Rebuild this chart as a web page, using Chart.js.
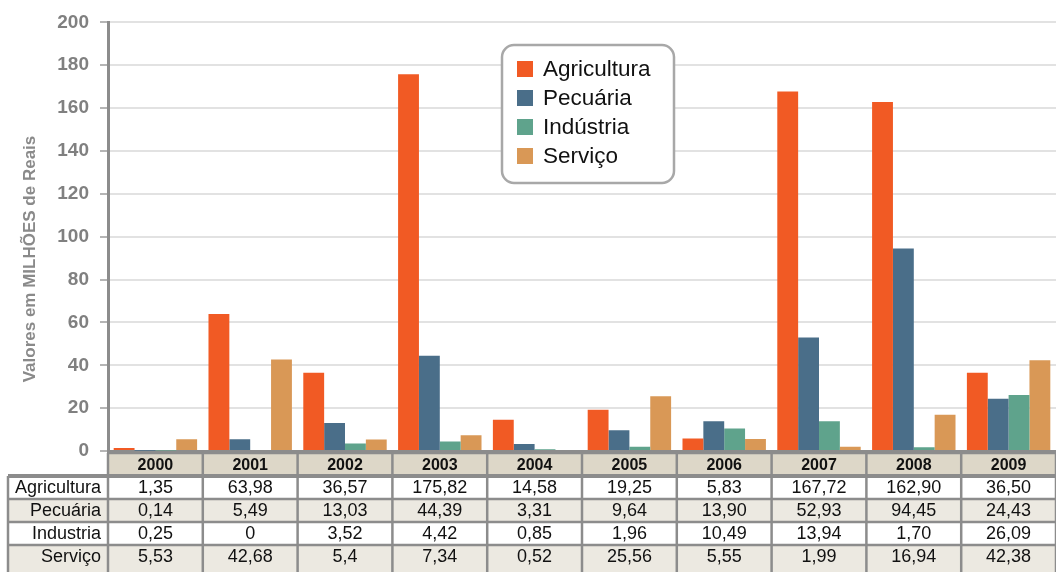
<!DOCTYPE html>
<html>
<head>
<meta charset="utf-8">
<script src="https://cdn.jsdelivr.net/npm/chart.js@4"></script>
<style>
  html, body { margin: 0; padding: 0; background: #fff; }
  #wrap { width: 1056px; height: 572px; position: relative; }
</style>
</head>
<body>
<div id="wrap"><canvas id="grafico"></canvas></div>
<script>
const anos = ["2000", "2001", "2002", "2003", "2004", "2005", "2006", "2007", "2008", "2009"];
const agricultura = ["1,35", "63,98", "36,57", "175,82", "14,58", "19,25", "5,83", "167,72", "162,90", "36,50"];
const pecuaria = ["0,14", "5,49", "13,03", "44,39", "3,31", "9,64", "13,90", "52,93", "94,45", "24,43"];
const industria = ["0,25", "0", "3,52", "4,42", "0,85", "1,96", "10,49", "13,94", "1,70", "26,09"];
const servico = ["5,53", "42,68", "5,4", "7,34", "0,52", "25,56", "5,55", "1,99", "16,94", "42,38"];
const nomesSeries = ["Agricultura", "Pecuária", "Indústria", "Serviço"];
const nomesLinhas = ["Agricultura", "Pecuária", "Industria", "Serviço"];
const tituloY = "Valores em MILHÕES de Reais";
const cores = ["#F15A24", "#4A6E89", "#5FA38C", "#D99856"];

const paraNumero = (s) => parseFloat(s.replace(",", "."));
const linhas = [agricultura, pecuaria, industria, servico];

const FONTE = "'Liberation Sans', Arial, sans-serif";
const CINZA = "#8c8c8c";

// título do eixo y (posição livre)
const tituloEixo = {
  id: "tituloEixo",
  afterDraw(chart) {
    const ctx = chart.ctx;
    ctx.save();
    ctx.translate(30, 259);
    ctx.rotate(-Math.PI / 2);
    ctx.font = "bold 17px " + FONTE;
    ctx.fillStyle = "#8a8a8a";
    ctx.textAlign = "center";
    ctx.textBaseline = "middle";
    ctx.fillText(tituloY, 0, 0);
    ctx.restore();
  },
};

// legenda em caixa arredondada
const legendaCaixa = {
  id: "legendaCaixa",
  afterDraw(chart) {
    const ctx = chart.ctx;
    const x = 502, y = 45, w = 172, h = 138, r = 12;
    ctx.save();
    ctx.beginPath();
    ctx.roundRect(x, y, w, h, r);
    ctx.fillStyle = "#fff";
    ctx.fill();
    ctx.lineWidth = 2.5;
    ctx.strokeStyle = "#a8a8a8";
    ctx.stroke();
    ctx.font = "22.5px " + FONTE;
    ctx.textBaseline = "middle";
    chart.data.datasets.forEach((ds, i) => {
      const cy = 69 + i * 29;
      ctx.fillStyle = ds.backgroundColor;
      ctx.fillRect(517, cy - 8, 16, 16);
      ctx.fillStyle = "#111";
      ctx.fillText(ds.label, 543, cy + 1);
    });
    ctx.restore();
  },
};

// tabela de dados abaixo do eixo x
const tabelaDados = {
  id: "tabelaDados",
  afterDraw(chart) {
    const ctx = chart.ctx;
    const xs = chart.scales.x;
    const larg = (xs.right - xs.left) / anos.length;
    const topo = chart.chartArea.bottom + 2;
    const alturas = [23, 23, 23, 23, 30];
    const fundos = ["#DDD7C8", "#ffffff", "#ECE9E1", "#ffffff", "#ECE9E1"];
    ctx.save();
    let y = topo;
    for (let r = 0; r < 5; r++) {
      const h = alturas[r];
      const x0 = r === 0 ? xs.left : 8;
      ctx.fillStyle = fundos[r];
      ctx.fillRect(x0, y, xs.right - x0, h);
      ctx.textBaseline = "middle";
      ctx.textAlign = "center";
      for (let c = 0; c < anos.length; c++) {
        const cx = xs.getPixelForValue(c);
        ctx.fillStyle = "#111";
        if (r === 0) {
          ctx.font = "bold 16px " + FONTE;
          ctx.fillText(anos[c], cx, y + h / 2 + 1);
        } else {
          ctx.font = "18px " + FONTE;
          ctx.fillText(linhas[r - 1][c], cx, y + 12);
        }
      }
      if (r > 0) {
        ctx.textAlign = "right";
        ctx.font = "18px " + FONTE;
        ctx.fillText(nomesLinhas[r - 1], 101, y + 12);
      }
      y += h;
    }
    // bordas
    ctx.strokeStyle = CINZA;
    y = topo;
    for (let r = 0; r <= 5; r++) {
      const x0 = r === 0 ? xs.left : 8;
      ctx.beginPath();
      ctx.moveTo(x0, y);
      ctx.lineTo(xs.right, y);
      ctx.lineWidth = r === 1 ? 4 : 2.5;
      ctx.stroke();
      if (r < 5) y += alturas[r];
    }
    ctx.lineWidth = 2.5;
    for (let c = 0; c <= anos.length; c++) {
      const x = xs.left + c * larg;
      ctx.beginPath();
      ctx.moveTo(x, topo);
      ctx.lineTo(x, 572);
      ctx.stroke();
    }
    ctx.beginPath();
    ctx.moveTo(8, topo + alturas[0]);
    ctx.lineTo(8, 572);
    ctx.stroke();
    ctx.restore();
  },
};

new Chart(document.getElementById("grafico"), {
  type: "bar",
  data: {
    labels: anos,
    datasets: linhas.map((linha, i) => ({
      label: nomesSeries[i],
      data: linha.map(paraNumero),
      backgroundColor: cores[i],
      borderWidth: 0,
    })),
  },
  options: {
    responsive: true,
    maintainAspectRatio: false,
    animation: false,
    layout: { padding: { top: 21, bottom: 121, left: 0, right: 0 } },
    categoryPercentage: 0.88,
    barPercentage: 1,
    plugins: {
      legend: { display: false },
      tooltip: { enabled: false },
    },
    scales: {
      x: {
        ticks: { display: false },
        grid: { display: false },
        border: { display: true, color: CINZA, width: 3 },
        afterFit(s) { s.height = 0; },
      },
      y: {
        min: 0,
        max: 200,
        ticks: {
          stepSize: 20,
          color: "#808080",
          font: { family: FONTE, size: 19, weight: "bold" },
          padding: 11,
        },
        grid: {
          color: "#e2e2e2",
          lineWidth: 2,
          tickLength: 8,
          tickColor: "#b5b5b5",
        },
        border: { display: true, color: CINZA, width: 3 },
        afterFit(s) { s.width = 108; },
      },
    },
  },
  plugins: [tituloEixo, legendaCaixa, tabelaDados],
});
</script>
</body>
</html>
